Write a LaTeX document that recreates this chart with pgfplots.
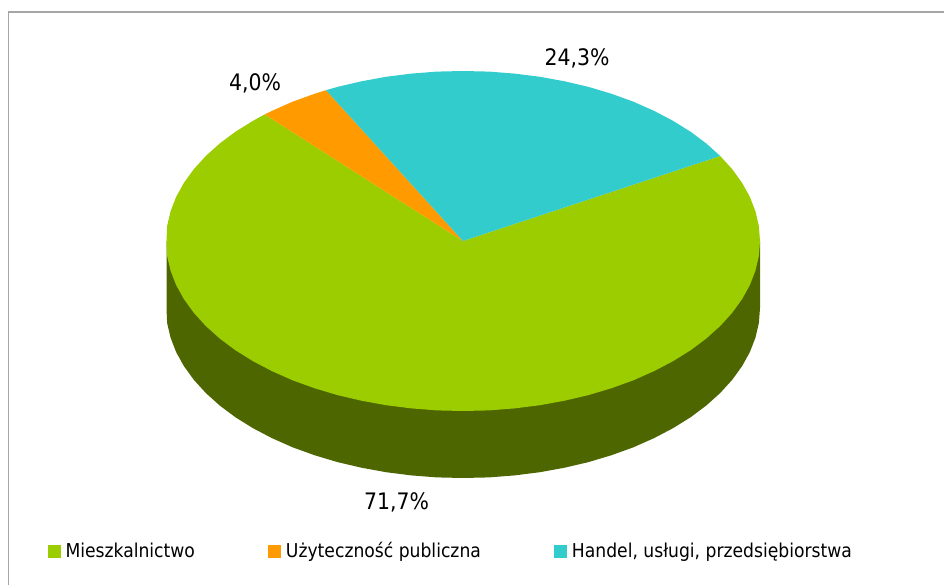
\documentclass[border=0pt]{standalone}
\usepackage{pgfplots}
\pgfplotsset{compat=1.18}
\usepackage{fontspec}
\setmainfont{DejaVu Sans Condensed}
\definecolor{mieszk}{HTML}{9BCD00}
\definecolor{uzyt}{HTML}{FF9B00}
\definecolor{handel}{HTML}{33CCCC}
\definecolor{bok}{HTML}{4D6600}
\definecolor{ramka}{HTML}{A6A6A6}
\begin{document}
\begin{tikzpicture}
\useasboundingbox (0,0) rectangle (944pt,585pt);
\begin{axis}[
    scale only axis, width=944pt, height=585pt,
    xmin=0, xmax=944, ymin=0, ymax=585,
    y dir=reverse,
    axis lines=none,
    legend cell align=left,
    legend columns=3,
    legend style={
        draw=none, fill=none, font=\fontsize{19.1}{22}\selectfont,
        at={(axis cs:48,551)}, anchor=west, inner sep=0pt, outer sep=0pt,
        /tikz/every even column/.append style={column sep=70pt},
        nodes={inner xsep=3.5pt, inner ysep=0pt},
    },
    legend image code/.code={\fill[#1] (0pt,-6.5pt) rectangle (13pt,6.5pt); \path (14pt,0pt);},
]
% ramka (tylko gora i lewa strona)
\addplot[forget plot, ramka, line width=1.2pt] coordinates {(8.5,585) (8.5,12) (944,12)};
% bok placka
\addplot[forget plot, fill=bok, draw=none] coordinates {
 (166.5,241) (166.5,308) (167.1,322.8) (170.5,337.5) (176.1,352) (183.9,366.1) (193.8,379.8)
 (205.8,393) (219.7,405.5) (235.5,417.3) (253,428.2) (272.1,438.2) (292.6,447.3)
 (314.5,455.2) (337.5,462.1) (361.4,467.7) (386.1,472.2) (411.4,475.4) (437.1,477.4)
 (463,478) (488.9,477.4) (514.6,475.4) (539.9,472.2) (564.6,467.7) (588.5,462.1)
 (611.5,455.2) (633.4,447.3) (653.9,438.2) (673,428.2) (690.5,417.3) (706.3,405.5)
 (720.2,393) (732.2,379.8) (742.1,366.1) (749.9,352) (755.5,337.5) (758.9,322.8)
 (760,308) (760,241)} -- cycle;
% Mieszkalnictwo 71,7%
\addplot[fill=mieszk, draw=none] coordinates {
 (463,241) (264.7,114.4) (253,120.8) (235.5,131.7) (219.7,143.5) (205.8,156) (193.8,169.2)
 (183.9,182.9) (176.1,197) (170.5,211.5) (167.1,226.2) (166.5,241)
 (167.1,255.8) (170.5,270.5) (176.1,285) (183.9,299.1) (193.8,312.8) (205.8,326)
 (219.7,338.5) (235.5,350.3) (253,361.2) (272.1,371.2) (292.6,380.3) (314.5,388.2)
 (337.5,395.1) (361.4,400.7) (386.1,405.2) (411.4,408.4) (437.1,410.4) (463,411)
 (488.9,410.4) (514.6,408.4) (539.9,405.2) (564.6,400.7) (588.5,395.1) (611.5,388.2)
 (633.4,380.3) (653.9,371.2) (673,361.2) (690.5,350.3) (706.3,338.5) (720.2,326)
 (732.2,312.8) (742.1,299.1) (749.9,285) (755.5,270.5) (758.9,255.8) (760,241)
 (758.9,226.2) (755.5,211.5) (749.9,197) (742.1,182.9) (732.2,169.2) (720.2,156)} -- cycle;
\addlegendentry{Mieszkalnictwo}
% Uzytecznosc publiczna 4,0%
\addplot[fill=uzyt, draw=none] coordinates {
 (463,241) (326,90.2) (314.5,93.8) (292.6,101.7) (272.1,110.8) (264.7,114.4)} -- cycle;
\addlegendentry{Użyteczność publiczna}
% Handel 24,3%
\addplot[fill=handel, draw=none] coordinates {
 (463,241) (720.2,156) (706.3,143.5) (690.5,131.7) (673,120.8) (653.9,110.8) (633.4,101.7)
 (611.5,93.8) (588.5,86.9) (564.6,81.3) (539.9,76.8) (514.6,73.6) (488.9,71.6)
 (463,71) (437.1,71.6) (411.4,73.6) (386.1,76.8) (361.4,81.3) (337.5,86.9) (326,90.2)} -- cycle;
\addlegendentry{Handel, usługi, przedsiębiorstwa}
\node[font=\fontsize{22.7}{26}\selectfont] at (axis cs:577,58) {24,3\%};
\node[font=\fontsize{22.7}{26}\selectfont] at (axis cs:255,83) {4,0\%};
\node[font=\fontsize{22.7}{26}\selectfont] at (axis cs:396.5,502) {71,7\%};
\end{axis}
\end{tikzpicture}
\end{document}
